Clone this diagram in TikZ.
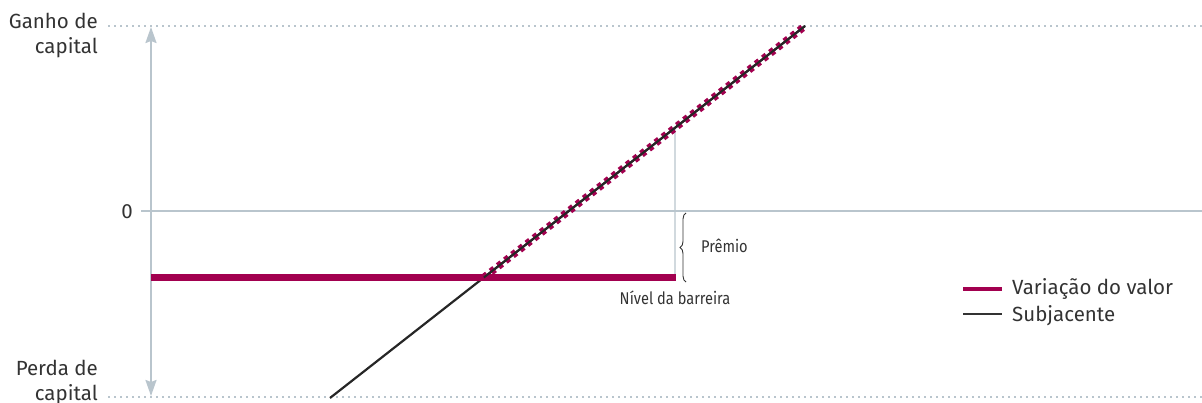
\documentclass[tikz,border=0pt]{standalone}
\usepackage{fontspec}
\setmainfont{Fira Sans}
\usetikzlibrary{arrows.meta,decorations.pathreplacing,calc,intersections}
\definecolor{axisgrey}{HTML}{B9C5CD}
\definecolor{berry}{HTML}{A2004F}
\definecolor{txt}{HTML}{333333}
\begin{document}
\begin{tikzpicture}[x=1pt,y=-1pt,
  lab/.style={text=txt,inner sep=0pt,font=\fontsize{20.5}{25}\selectfont},
  smalllab/.style={text=txt,inner sep=0pt,font=\fontsize{17}{20}\selectfont},
  guide/.style={draw=axisgrey,line width=1.2pt,dash pattern=on 1.5pt off 4.5pt},
  axisline/.style={draw=axisgrey,line width=2pt},
  thinaxis/.style={draw=axisgrey,line width=1.3pt},
  valueline/.style={draw=berry,line width=6.5pt},
  underlying/.style={draw=black!85,line width=2.2pt},
  legendval/.style={draw=berry,line width=4.5pt},
  legendund/.style={draw=txt,line width=2pt}]
\useasboundingbox (0,0) rectangle (1202,403);
% coordinates
\coordinate (gtl) at (108,26);
\coordinate (gtr) at (1202,26);
\coordinate (gbl) at (108,397);
\coordinate (gbr) at (1202,397);
\coordinate (axtop) at (151,27);
\coordinate (axbot) at (151,396);
\coordinate (zl) at (141,211.5);
\coordinate (zr) at (1202,211.5);
\coordinate (ul0) at (330,398);
\coordinate (ul1) at (805,26);
\coordinate (vl) at (151,277.5);
\coordinate (vr) at (676,277.5);
% guides
\draw[guide] (gtl) -- (gtr);
\draw[guide] (gbl) -- (gbr);
\draw[axisline] (zl) -- (zr);
\draw[axisline,{Stealth[length=16pt,width=11pt,inset=2pt]}-{Stealth[length=16pt,width=11pt,inset=2pt]}] (axtop) -- (axbot);
% intersections
\path[name path=under] (ul0) -- (ul1);
\path[name path=bar] (vl) -- (vr);
\path[name path=vert] (675,300) -- (675,0);
\path[name intersections={of=under and bar,by=kx}];
\path[name intersections={of=under and vert,by=vx}];
\coordinate (vb) at (675,277.5);
\draw[thinaxis] (vb) -- (vx);
% lines
\draw[underlying] (ul0) -- (ul1);
\draw[valueline] (vl) -- (vr);
\draw[draw=berry,line width=7.5pt,dash pattern=on 4.5pt off 4.6pt] (kx) -- (ul1);
\draw[draw=black!85,line width=2pt] (kx) -- (ul1);
% brace
\coordinate (bt) at (686,213);
\coordinate (bb) at (686,282);
\draw[txt,line width=0.9pt,decorate,decoration={brace,amplitude=6pt,mirror}] (bt) -- (bb);
\node[smalllab,anchor=base west,xscale=0.86] (prem) at (701,253) {Prêmio};
\node[smalllab,anchor=base,xscale=0.86] (niv) at (675,305) {Nível da barreira};
% axis labels
\node[lab,anchor=north east,align=right] (gain) at (98,13) {Ganho de\\capital};
\node[lab,anchor=north east,align=right] (loss) at (98,360) {Perda de\\capital};
\node[lab,anchor=base east] (zero) at (133,219) {0};
% legend
\coordinate (l1a) at (963,289);
\coordinate (l1b) at (1002,289);
\coordinate (l2a) at (963,314);
\coordinate (l2b) at (1002,314);
\draw[legendval] (l1a) -- (l1b);
\draw[legendund] (l2a) -- (l2b);
\node[lab,anchor=base west] (leg1) at (1012,295) {Variação do valor};
\node[lab,anchor=base west] (leg2) at (1012,322) {Subjacente};
\end{tikzpicture}
\end{document}
